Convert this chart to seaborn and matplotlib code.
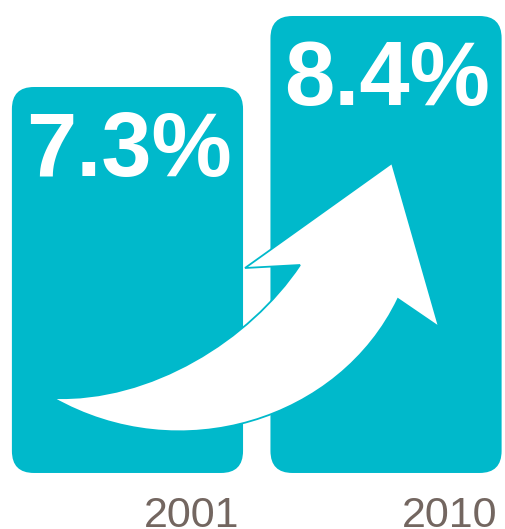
import pandas as pd
import matplotlib
matplotlib.use("Agg")
import matplotlib.pyplot as plt
import seaborn as sns
from matplotlib.patches import FancyBboxPatch, PathPatch
from matplotlib.path import Path

# chart values
years = ["2001", "2010"]
rates = [7.3, 8.4]
rate_labels = ["7.3%", "8.4%"]

teal = "#00B9CB"
year_col = "#736660"

df = pd.DataFrame({"year": years, "rate": rates})

sns.set_theme(style="white")
plt.rcParams["font.family"] = ["Liberation Sans", "DejaVu Sans"]

W, H = 506, 529
fig = plt.figure(figsize=(W / 100, H / 100), dpi=100)
ax = fig.add_axes([0, 0, 1, 1])
sns.barplot(data=df, x="year", y="rate", color=teal, width=0.894,
            saturation=1, ax=ax)

xlo, xhi = -0.493, 1.464
ylo, yhi = 0.452, 8.648
ax.set_xlim(xlo, xhi)
ax.set_ylim(ylo, yhi)
ax.axis("off")

# swap the plain bars for rounded ones sitting on a raised baseline
base = 1.32
px_x = W / (xhi - xlo)
px_y = H / (yhi - ylo)
radius = 22
for bar, lab, yr in zip(list(ax.patches), rate_labels, years):
    x0, w, h = bar.get_x(), bar.get_width(), bar.get_height()
    bar.set_visible(False)
    ax.add_patch(FancyBboxPatch((x0, base), w, h - base,
                                boxstyle=f"round,pad=0,rounding_size={radius / px_x}",
                                mutation_aspect=px_x / px_y,
                                fc=teal, ec="none", zorder=2))
    ax.annotate(lab, (x0 + w / 2, h), xytext=(1, -64), textcoords="offset points",
                ha="center", va="baseline", color="white", fontsize=65,
                fontweight="bold", zorder=4)
    ax.annotate(yr, (x0 + w, ylo), xytext=(-3, 1.5), textcoords="offset points",
                ha="right", va="baseline", color=year_col, fontsize=31,
                annotation_clip=False, zorder=4)

# decorative upward arrow (pixel coords -> axes fraction)
def p(x, y):
    return (x / W, 1 - y / H)

verts = [p(53, 398),
         p(150, 402), p(250, 340), p(300, 265),
         p(245, 268), p(392, 163), p(439, 327), p(398, 299),
         p(340, 420), p(180, 470), p(53, 398),
         p(53, 398)]
codes = [Path.MOVETO,
         Path.CURVE4, Path.CURVE4, Path.CURVE4,
         Path.LINETO, Path.LINETO, Path.LINETO, Path.LINETO,
         Path.CURVE4, Path.CURVE4, Path.CURVE4,
         Path.CLOSEPOLY]
ax.add_patch(PathPatch(Path(verts, codes), transform=ax.transAxes,
                       fc="white", ec=teal, lw=1.3, zorder=3))

fig.savefig("out.png", dpi=100)
